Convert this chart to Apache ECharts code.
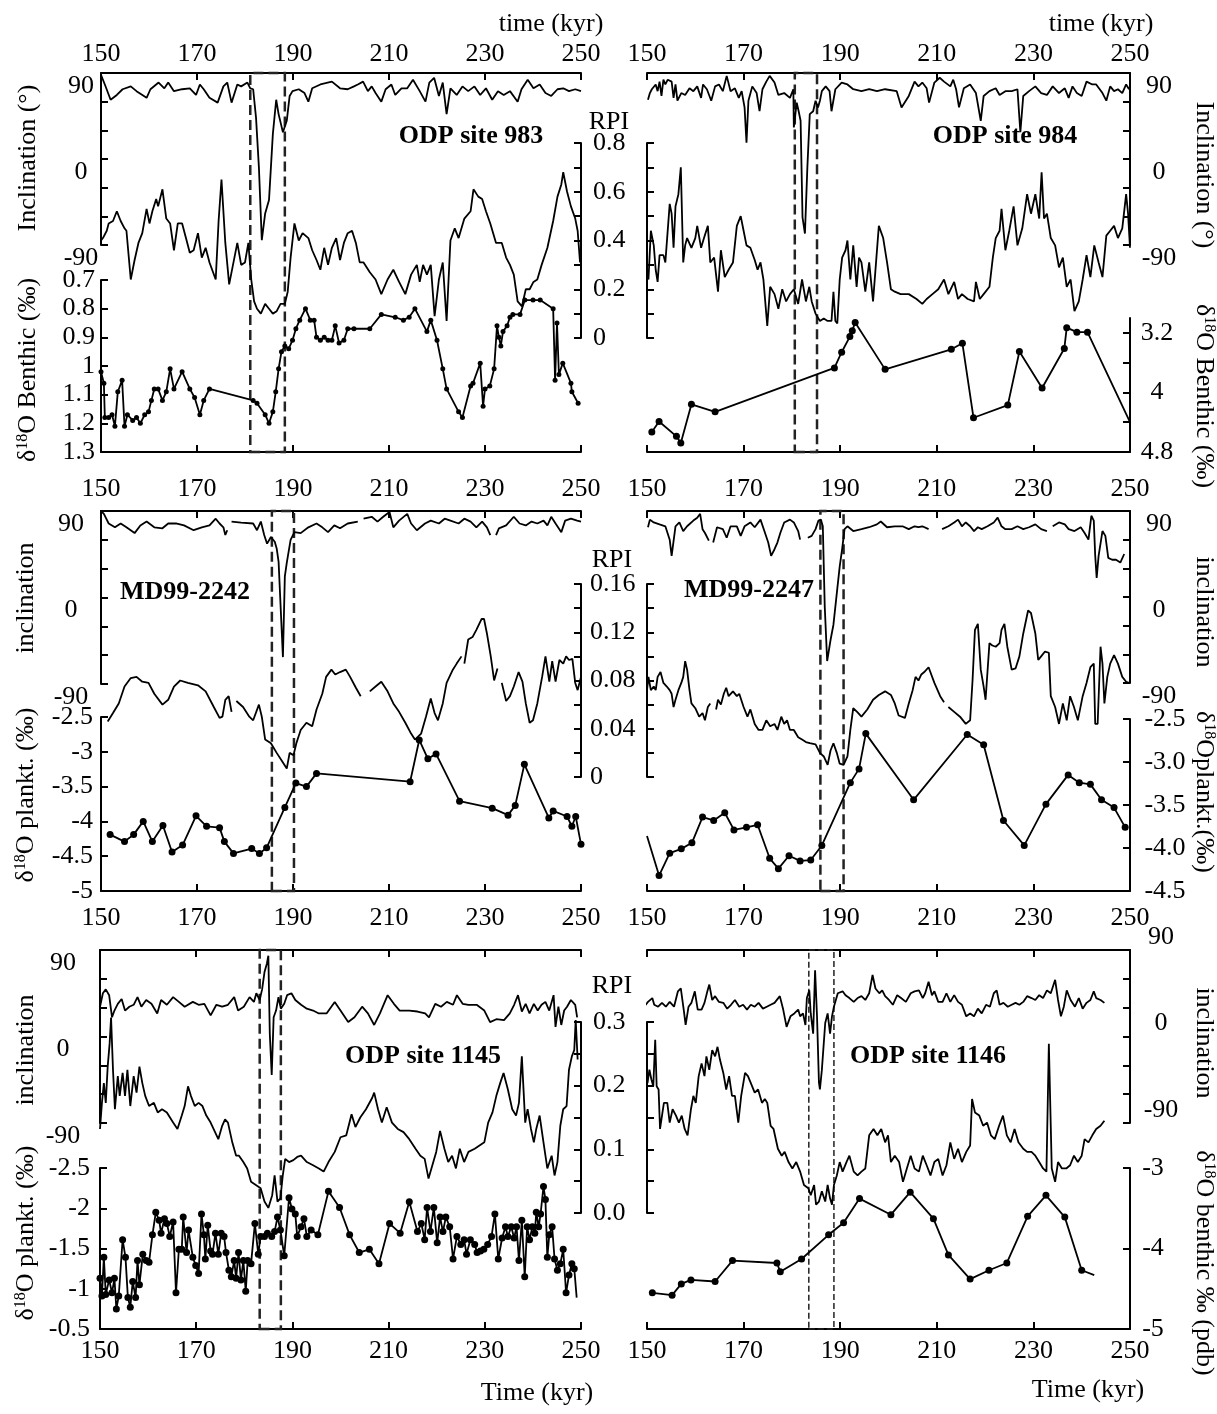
<!DOCTYPE html>
<html>
<head>
<meta charset="utf-8">
<script src="https://cdn.jsdelivr.net/npm/echarts@6/dist/echarts.min.js"></script>
<style>
html, body { margin: 0; padding: 0; background: #fff; }
#chart { width: 1217px; height: 1414px; }
</style>
</head>
<body>
<div id="chart"></div>
<script>
// ---- ODP site 983 : [time kyr, value]
var inc983 = [[150,88],[150.8,78],[152,62],[153.3,67],[154.5,73],[156.2,76],[157.4,71],[159.5,64],[160.3,73],[162,80],[163.2,74],[164,80],[165.2,71],[166.9,73],[168.5,74],[169.8,67],[170.6,78],[171.4,73],[172.6,64],[174.3,59],[175.5,76],[176.3,80],[177.2,59],[178.4,78],[179.2,76],[180.5,80],[181.1,74],[181.7,73],[182.3,43],[182.9,-9],[183.5,-85],[184.2,-57],[185,-43],[185.8,26],[186.5,62],[187,47],[187.9,28],[188.3,26],[188.7,40],[189.3,66],[189.9,71],[191.2,73],[192.4,69],[193.2,60],[194,74],[195.7,78],[198.1,81],[199.8,74],[201.4,73],[202.7,76],[203.5,78],[204.6,81],[205.6,71],[206.4,76],[207.2,69],[208.4,60],[209.3,73],[210.5,78],[211.3,67],[212.6,74],[213.8,74],[215,83],[216.4,71],[217.6,60],[218.4,80],[219.4,85],[220.4,66],[221.2,80],[222,47],[222.8,74],[224.1,67],[225.3,76],[226.5,71],[227.8,76],[229,67],[230.2,74],[231.5,62],[232.7,71],[233.9,67],[235.2,71],[236.8,60],[237.6,73],[238.9,83],[240.1,74],[241.4,78],[242.6,69],[243.8,66],[245.1,73],[246.3,74],[247.5,71],[248.8,73],[250,71]];
var rpi983 = [[150,0.40],[150.4,0.41],[151.2,0.44],[151.6,0.47],[152.5,0.48],[153.3,0.52],[154.1,0.48],[154.9,0.45],[155.3,0.44],[156.2,0.24],[157,0.32],[157.8,0.39],[158.6,0.43],[159.5,0.53],[160.1,0.47],[160.7,0.52],[161.5,0.57],[161.9,0.54],[162.8,0.61],[163.6,0.49],[164.4,0.47],[165.2,0.36],[166,0.47],[166.9,0.47],[167.7,0.41],[168.5,0.35],[169.3,0.36],[170.2,0.43],[171,0.33],[171.8,0.37],[172.6,0.31],[173.9,0.24],[174.5,0.48],[175.1,0.65],[175.9,0.39],[176.7,0.22],[177.6,0.31],[178.4,0.39],[179.2,0.30],[180,0.31],[180.7,0.39],[181.3,0.24],[181.9,0.15],[182.5,0.12],[183.3,0.10],[184.2,0.14],[185,0.12],[185.8,0.10],[186.6,0.11],[187.4,0.14],[188.3,0.14],[188.9,0.19],[189.5,0.33],[190.3,0.47],[191.2,0.40],[192,0.43],[193.2,0.41],[194,0.36],[194.9,0.32],[195.7,0.28],[196.5,0.37],[197.3,0.30],[198.1,0.37],[199,0.41],[199.8,0.32],[200.6,0.39],[201.4,0.43],[202.3,0.44],[203.1,0.39],[203.9,0.31],[204.7,0.31],[206,0.27],[207.2,0.24],[208.4,0.18],[209.7,0.24],[210.9,0.28],[212.1,0.23],[213.4,0.18],[214.6,0.26],[215.8,0.30],[216.4,0.23],[217.1,0.30],[217.9,0.26],[218.7,0.30],[219.5,0.09],[220.4,0.24],[221.2,0.31],[222,0.07],[222.8,0.40],[223.7,0.45],[224.5,0.41],[225.7,0.49],[227,0.52],[227.6,0.61],[228.6,0.58],[229.4,0.57],[230.2,0.52],[231.1,0.47],[232.3,0.39],[233.5,0.39],[234.4,0.33],[235.2,0.30],[236,0.26],[236.8,0.15],[237.7,0.13],[238.5,0.20],[239.3,0.20],[240.1,0.23],[240.9,0.24],[241.8,0.30],[243,0.37],[244.2,0.48],[245.1,0.58],[245.9,0.63],[246.3,0.68],[247.1,0.60],[247.9,0.54],[248.8,0.49],[249.3,0.44],[249.8,0.31]];
var d18o983 = [[150,1.02],[150.6,1.06],[150.8,1.18],[151.6,1.18],[152.3,1.17],[152.9,1.21],[153.5,1.09],[154.4,1.05],[154.9,1.21],[155.5,1.17],[156.6,1.19],[157.4,1.18],[158.2,1.20],[159.1,1.17],[159.9,1.16],[160.5,1.12],[161.1,1.08],[161.9,1.08],[162.8,1.12],[163.6,1.09],[164.4,1.01],[165.2,1.08],[166.9,1.02],[168.5,1.08],[169.5,1.11],[170.6,1.17],[171.4,1.12],[172.6,1.08],[181.7,1.12],[182.5,1.13],[184.2,1.17],[185,1.20],[185.8,1.16],[186.4,1.09],[187,1.01],[187.6,0.95],[188.3,0.93],[189.1,0.94],[189.9,0.91],[190.6,0.87],[191.4,0.84],[192.6,0.80],[193.6,0.84],[194.4,0.84],[194.9,0.90],[195.7,0.91],[196.5,0.90],[197.3,0.91],[198.1,0.91],[198.8,0.86],[199.6,0.92],[200.6,0.91],[201.4,0.87],[202.7,0.87],[206,0.87],[208.4,0.82],[211.3,0.83],[213,0.84],[214.2,0.83],[215.4,0.80],[217.9,0.88],[218.7,0.84],[220,0.91],[221.2,1.01],[222,1.08],[224.5,1.16],[225.3,1.18],[227,1.07],[227.5,1.06],[229,0.99],[229.6,1.14],[230,1.08],[231,1.07],[231.9,1.01],[232.5,0.86],[232.9,0.90],[233.3,0.93],[233.75,0.88],[234.6,0.86],[235.2,0.83],[235.8,0.82],[237.3,0.82],[238.3,0.77],[240,0.77],[241.5,0.77],[244.2,0.80],[244.6,1.05],[245,0.85],[245.4,1.03],[246.2,0.99],[247.9,1.06],[248.1,1.09],[249.4,1.13]];

// ---- ODP site 984
var inc984 = [[150.2,62],[150.6,69],[151,73],[151.8,78],[152.2,71],[152.6,81],[153,66],[153.4,83],[153.8,78],[154.3,83],[155.1,81],[155.5,64],[155.9,78],[156.3,61],[157.1,69],[157.9,67],[158.8,74],[159.6,71],[160.4,76],[161.2,64],[161.6,78],[162.4,73],[163.3,61],[164.1,76],[164.9,78],[165.7,71],[166.5,87],[167.3,71],[168.2,74],[169,64],[169.6,71],[170.2,54],[170.6,17],[171,61],[171.8,76],[172.7,69],[173.3,50],[173.9,73],[174.7,81],[175.4,87],[176.4,80],[177.2,67],[178.4,69],[179.6,64],[180.3,73],[180.4,33],[181,59],[181.4,50],[181.8,40],[182.2,-61],[182.7,-78],[183.2,-9],[183.7,47],[184.4,50],[184.9,61],[185.4,54],[185.8,61],[186.2,71],[187,76],[187.8,71],[188.2,50],[189,73],[190.3,80],[191.5,78],[192.7,73],[194.4,71],[196,73],[197.6,71],[199.3,73],[201.7,71],[202.7,54],[204.2,66],[205.4,81],[206.2,76],[207,80],[207.9,74],[208.4,59],[209.5,80],[210.6,85],[211.5,81],[212.8,76],[213.4,83],[214,73],[214.6,54],[215.6,74],[216.9,78],[218.1,69],[219.1,40],[219.7,66],[220.9,71],[222.2,74],[223,67],[224.2,71],[225.5,71],[226.7,73],[227.3,28],[227.9,66],[229.1,71],[230.4,76],[231.6,69],[232.8,67],[234,76],[235.3,69],[236.5,74],[237.3,64],[238.1,76],[239,69],[240,66],[241,81],[242.2,78],[243,78],[244.3,69],[245.1,61],[245.9,76],[246.7,71],[247.5,73],[248.4,69],[249.2,78],[249.8,73]];
var rpi984 = [[150,0.28],[150.3,0.24],[150.8,0.44],[151.4,0.38],[151.8,0.28],[152.2,0.23],[152.6,0.34],[153.4,0.34],[153.8,0.31],[154.7,0.55],[155.1,0.51],[155.5,0.37],[155.9,0.54],[156.5,0.59],[157,0.70],[157.5,0.31],[157.9,0.38],[158.3,0.41],[159.2,0.37],[160,0.41],[160.4,0.46],[161.2,0.37],[161.8,0.41],[162.6,0.46],[163.1,0.31],[163.9,0.33],[164.7,0.19],[165.3,0.36],[166.1,0.25],[166.9,0.28],[167.8,0.31],[168.6,0.46],[169.4,0.50],[170,0.44],[170.6,0.38],[171.4,0.37],[172.3,0.32],[172.9,0.28],[173.5,0.31],[174.1,0.24],[174.9,0.05],[175.5,0.21],[176.4,0.18],[177.2,0.12],[178,0.20],[178.8,0.15],[179.6,0.18],[180.4,0.20],[181.3,0.14],[182.1,0.24],[182.9,0.15],[183.6,0.21],[184.1,0.15],[184.9,0.10],[185.8,0.07],[186.6,0.08],[187.4,0.07],[188.2,0.07],[188.6,0.19],[189,0.07],[189.4,0.06],[189.9,0.24],[190.4,0.33],[191.1,0.36],[191.5,0.40],[192.1,0.24],[192.7,0.38],[193.4,0.21],[193.9,0.33],[194.4,0.31],[195.2,0.19],[196,0.31],[196.8,0.15],[198,0.46],[198.9,0.41],[199.7,0.31],[200.5,0.20],[201.3,0.19],[202.5,0.18],[204.2,0.18],[205.8,0.16],[207,0.14],[207.9,0.16],[209.1,0.18],[210.3,0.20],[211.5,0.24],[212.4,0.18],[213.6,0.23],[214.4,0.16],[215.2,0.18],[216.4,0.16],[217.7,0.15],[218.1,0.23],[218.9,0.16],[219.7,0.18],[220.9,0.21],[221.6,0.33],[222.2,0.41],[223,0.44],[223.4,0.53],[224.2,0.36],[225,0.44],[225.9,0.54],[226.7,0.38],[227.7,0.45],[228.7,0.59],[229.5,0.51],[230.4,0.59],[231.2,0.49],[231.7,0.68],[232.2,0.49],[232.8,0.51],[233.6,0.41],[234.5,0.38],[235.3,0.29],[236.1,0.33],[236.9,0.21],[237.7,0.24],[238.5,0.11],[239.4,0.15],[240.2,0.24],[241,0.34],[241.8,0.25],[242.6,0.38],[243.5,0.31],[244.3,0.25],[245.1,0.42],[245.9,0.44],[246.7,0.46],[247.5,0.41],[248.4,0.45],[249.2,0.59],[249.6,0.51],[250,0.37]];
var d18o984 = [[151,4.53],[152.5,4.39],[156.1,4.59],[157,4.68],[159.2,4.16],[164.1,4.26],[188.8,3.67],[190.3,3.46],[192,3.25],[192.5,3.17],[193.1,3.06],[199.3,3.69],[213,3.42],[215.3,3.34],[217.6,4.34],[224.7,4.17],[227.1,3.45],[231.8,3.94],[236.4,3.41],[236.9,3.13],[239,3.19],[241.2,3.19],[250,4.40]];

// ---- MD99-2242 (null = gap in record)
var incMD42 = [[150,90],[150.6,87],[151.6,77],[152.9,73],[154.1,77],[155.3,73],[157,67],[158.2,75],[159.5,79],[161.1,73],[162.8,72],[164,77],[165.6,77],[167.3,75],[169.3,70],[171,73],[172.6,75],[173.9,82],[174.7,77],[175.5,73],[175.9,65],[176.3,70],[176.7,null],[177.2,79],[179.2,78],[181.7,77],[182.5,70],[183.3,79],[184,65],[184.6,56],[185.4,63],[186.2,58],[186.6,51],[187,37],[187.4,38],[187.9,-62],[188.3,22],[188.7,36],[189.5,60],[190.3,68],[191.6,67],[193.2,73],[194.9,77],[196.1,73],[197.3,68],[198.6,75],[199.8,72],[201.4,77],[203.5,79],[204.1,null],[204.7,82],[206.4,84],[207.6,79],[208.8,84],[210.1,89],[210.9,73],[212.1,80],[213.8,87],[214.6,77],[215.8,70],[217.5,77],[218.7,80],[220.4,77],[221.6,82],[222.8,80],[224.5,77],[225.7,82],[227,79],[228.2,73],[229.4,79],[230.4,73],[231.1,65],[231.7,null],[232.3,65],[232.9,72],[234.4,75],[236,84],[237.2,77],[238.5,75],[239.7,79],[240.9,77],[242.2,80],[243,75],[243.8,84],[244.7,77],[245.9,68],[246.7,80],[247.9,82],[249.2,80],[250,79]];
var rpiMD42 = [[151.4,0.046],[152.5,0.053],[153.7,0.061],[154.9,0.075],[156.2,0.082],[157.4,0.083],[158.6,0.079],[159.9,0.078],[161.1,0.069],[162.8,0.060],[164,0.064],[165.2,0.075],[166.5,0.080],[168.1,0.078],[170.2,0.076],[171.8,0.071],[173.5,0.058],[174.7,0.049],[175.3,0.050],[175.9,0.064],[176.6,0.067],[177.2,0.054],[177.7,null],[178.2,0.063],[179.6,0.058],[180.9,0.050],[181.7,0.047],[182.9,0.060],[183.5,0.050],[184.2,0.031],[185.4,0.028],[186.6,0.020],[187.9,0.012],[188.7,0.007],[189.3,0.020],[190.1,0.018],[190.7,0.028],[191.6,0.039],[192.8,0.045],[194,0.042],[194.9,0.056],[196.1,0.069],[196.9,0.083],[198,0.089],[198.8,0.085],[199.8,0.087],[201,0.089],[201.9,0.083],[203.1,0.074],[204.1,0.067],[205,null],[206,0.071],[207.2,0.075],[208.4,0.079],[209.7,0.071],[210.9,0.061],[212.1,0.054],[213.4,0.045],[214.6,0.036],[215.4,0.031],[216.7,0.036],[217.7,0.050],[218.7,0.065],[219.5,0.053],[220.2,0.047],[221.2,0.061],[222,0.078],[223.3,0.089],[224.1,0.094],[225.1,0.100],[225.4,null],[225.7,0.094],[226.5,0.114],[227.4,0.116],[228.2,0.122],[229.3,0.131],[229.8,0.131],[230.4,0.119],[231.2,0.100],[231.9,0.080],[232.6,0.090],[233,null],[233.5,0.078],[234.4,0.063],[235.2,0.067],[236,0.075],[237,0.087],[237.8,0.079],[238.5,0.061],[239.3,0.045],[240,0.047],[240.9,0.061],[241.9,0.083],[242.6,0.100],[243.4,0.079],[244,0.096],[244.7,0.079],[245.5,0.097],[246.3,0.094],[246.9,0.100],[247.5,0.097],[248.2,0.098],[248.8,0.078],[249.3,0.072],[250,0.083]];
var d18oMD42 = [[151.9,-4.19],[154.9,-4.29],[156.8,-4.19],[158.8,-4.0],[160.7,-4.29],[162.9,-4.06],[164.8,-4.44],[167,-4.34],[169.8,-3.92],[172,-4.07],[174.7,-4.09],[175.7,-4.29],[177.6,-4.46],[181.4,-4.39],[183,-4.46],[184.5,-4.38],[188.3,-3.80],[190.6,-3.45],[192.8,-3.50],[194.9,-3.31],[214.4,-3.43],[216.3,-2.83],[218.1,-3.10],[219.8,-3.03],[224.7,-3.71],[231.5,-3.81],[234.8,-3.91],[236.3,-3.77],[238.2,-3.18],[243.3,-3.95],[244.2,-3.85],[247.1,-3.93],[248.1,-4.07],[248.9,-3.93],[250,-4.33]];

// ---- MD99-2247
var incMD47 = [[150.2,73],[150.6,81],[151.4,78],[152.6,76],[153.8,74],[154.7,60],[155.1,43],[155.9,74],[156.7,78],[157.5,69],[158.3,74],[159.6,80],[160.4,83],[161,87],[161.5,71],[162,67],[162.8,59],[163.2,null],[163.7,57],[164.5,73],[165.7,71],[166.5,62],[167.3,74],[168.6,74],[169.4,64],[170.2,74],[171.4,78],[172.3,73],[173.5,81],[174.3,69],[175.1,57],[175.7,43],[176.4,50],[177,57],[177.6,67],[178.4,78],[179.6,81],[180.4,78],[181.3,69],[181.7,60],[182.5,null],[183.3,62],[184.1,64],[184.9,71],[185.5,80],[186,81],[186.4,74],[186.8,-10],[187.3,-67],[188,-45],[188.6,-29],[189.3,4],[189.9,32],[190.4,50],[190.9,71],[191.5,74],[192.7,69],[194.4,71],[196,73],[197.6,76],[198.4,79],[199.7,73],[201.3,74],[202.9,74],[204.2,71],[205.4,74],[206.2,73],[207,74],[208.3,71],[209.7,null],[211.1,71],[212.4,74],[213.6,78],[214.4,81],[215.2,74],[216,78],[216.9,74],[217.7,69],[218.5,73],[219.3,71],[220.5,74],[221.8,78],[222.6,83],[223.4,74],[224.2,71],[225.5,71],[226.7,74],[227.9,71],[229.1,73],[230.4,76],[231.6,71],[232.8,69],[233.4,null],[234,74],[235.3,78],[236.5,76],[237.3,71],[238.5,69],[239.8,73],[240.6,67],[241.4,60],[242,85],[242.5,80],[242.8,43],[243.1,20],[243.5,43],[244.3,69],[244.9,64],[245.5,41],[246.3,39],[247.1,39],[248,36],[248.8,45]];
var rpiMD47 = [[150,0.072],[150.3,0.083],[150.8,0.072],[151.4,0.075],[151.8,0.072],[152.2,0.083],[152.8,0.087],[153.4,0.078],[154.1,0.075],[154.7,0.072],[155.1,0.069],[155.5,0.058],[155.9,0.064],[156.5,0.072],[157.1,0.078],[157.5,0.083],[157.9,0.096],[158.3,0.089],[158.8,0.072],[159.2,0.061],[160,0.057],[160.8,0.050],[161.5,0.053],[162,0.047],[162.6,0.058],[163.1,0.061],[163.7,null],[164.3,0.056],[164.7,0.064],[165.3,0.060],[165.9,0.069],[166.4,0.074],[166.9,0.067],[167.8,0.071],[168.6,0.067],[169.1,0.069],[170,0.058],[170.8,0.050],[171.4,0.056],[172.3,0.044],[173.1,0.039],[173.9,0.039],[174.7,0.047],[175.5,0.042],[176.4,0.044],[177,0.039],[177.8,0.050],[178.4,0.044],[179,0.047],[179.6,0.039],[180.4,0.039],[181.3,0.033],[182.1,0.031],[182.9,0.029],[183.7,0.028],[184.9,0.027],[185.8,0.020],[186.6,0.017],[187.4,0.010],[188,0.022],[188.6,0.028],[189.3,0.020],[189.9,0.011],[190.7,0.010],[191.5,0.017],[192.1,0.039],[192.7,0.057],[193.5,0.054],[194.4,0.050],[195.6,0.056],[196.8,0.064],[198,0.068],[199.3,0.071],[200.5,0.068],[201.3,0.061],[202.1,0.051],[203.4,0.049],[204.2,0.061],[205,0.072],[205.6,0.083],[206.2,0.080],[206.8,0.085],[207.4,0.087],[208.3,0.091],[209.5,0.078],[210.7,0.067],[211.5,0.062],[212,null],[212.4,0.058],[213.6,0.054],[214.8,0.050],[216,0.044],[216.9,0.047],[217.4,0.080],[217.9,0.122],[218.5,0.127],[219.1,0.089],[219.7,0.075],[220.1,0.064],[220.9,0.111],[221.5,0.109],[222.2,0.108],[223,0.111],[223.4,0.122],[224,0.127],[224.6,0.108],[225.5,0.089],[226.3,0.090],[227.1,0.100],[227.9,0.119],[228.9,0.138],[229.5,0.136],[230.4,0.119],[231,0.097],[231.6,0.100],[232.4,0.104],[233.2,0.103],[233.6,0.067],[234.5,0.058],[235.3,0.044],[236.1,0.061],[236.9,0.047],[237.6,0.067],[238.4,0.058],[239.2,0.047],[240.2,0.067],[241,0.078],[241.8,0.091],[242.5,0.094],[242.8,0.044],[243.3,0.044],[243.9,0.108],[244.3,0.094],[244.7,0.061],[245.3,0.083],[245.9,0.094],[246.7,0.101],[247.5,0.094],[248.4,0.083],[249.2,0.079],[249.8,0.078]];
var d18oMD47 = [[150,-3.86],[152.5,-4.32],[154.7,-4.06],[157.1,-4.01],[159.3,-3.94],[161.5,-3.64],[163.8,-3.68],[166.1,-3.59],[168,-3.79],[170.6,-3.76],[172.9,-3.73],[175.4,-4.12],[177.2,-4.24],[179.4,-4.09],[181.7,-4.15],[183.9,-4.14],[186.2,-3.97],[192.1,-3.24],[193.9,-3.08],[195.3,-2.67],[205.2,-3.44],[216.3,-2.68],[219.7,-2.80],[223.8,-3.68],[228.1,-3.97],[232.6,-3.49],[237.2,-3.15],[239.5,-3.24],[241.8,-3.26],[244.1,-3.44],[246.7,-3.53],[249,-3.76]];

// ---- ODP site 1145
var inc1145 = [[150,31],[150.6,45],[151.2,49],[151.9,43],[152.5,20],[153,27],[153.7,34],[154.5,39],[155.2,27],[156.1,31],[157,33],[157.8,41],[158.6,31],[159.6,38],[160.7,34],[161.9,24],[162.7,38],[163.9,33],[165.2,41],[166.4,36],[167.6,31],[169.3,36],[170.5,33],[171.7,34],[173,22],[174.2,33],[175.4,31],[176.6,33],[177.9,41],[178.7,27],[179.9,31],[181.1,41],[182,36],[182.5,45],[183.2,38],[183.7,49],[184.2,67],[184.7,76],[185,84],[185.3,3],[185.7,-40],[186.1,20],[186.6,27],[187.1,41],[187.6,29],[188.3,34],[188.9,43],[189.8,45],[190.6,38],[191.8,33],[193,29],[194.3,27],[195.5,24],[197.1,24],[198.8,36],[200,27],[201.6,15],[202.9,20],[204.5,31],[205.7,24],[207,12],[208.2,24],[209.8,43],[211.1,34],[212.3,27],[214.3,27],[216,26],[217.6,24],[218.4,20],[219.7,34],[220.9,31],[222.1,36],[223.4,33],[224.2,43],[225.4,34],[226.6,33],[228.3,33],[229.9,27],[231.1,15],[232.4,18],[234,17],[235.2,24],[236.1,33],[236.9,43],[237.7,26],[238.5,34],[239.3,24],[240.2,34],[241,27],[241.8,33],[242.6,36],[243.4,27],[244.3,43],[244.7,10],[245.3,31],[245.9,12],[246.5,27],[247.1,31],[247.9,38],[248.8,33],[249.2,20]];
var rpi1145 = [[150,0.132],[150.4,0.173],[150.8,0.204],[151.2,0.173],[151.6,0.230],[152,0.266],[152.3,0.307],[152.7,0.225],[153.1,0.163],[153.7,0.215],[154.1,0.184],[154.7,0.220],[155.2,0.184],[155.7,0.225],[156.3,0.168],[157,0.215],[157.6,0.189],[158.2,0.230],[158.8,0.204],[159.4,0.184],[160.2,0.168],[161.2,0.173],[162,0.158],[162.9,0.163],[163.9,0.158],[165.2,0.142],[166.1,0.132],[167,0.153],[167.6,0.168],[168.3,0.199],[168.9,0.184],[169.7,0.168],[170.5,0.173],[171.3,0.168],[172.1,0.153],[173,0.142],[173.8,0.129],[174.6,0.116],[175.4,0.137],[176,0.147],[176.6,0.142],[177.5,0.111],[178.3,0.090],[178.9,0.090],[179.8,0.080],[180.6,0.070],[181.4,0.049],[182.4,0.044],[183.4,0.039],[184.2,0.018],[185,0.008],[185.8,0.028],[186.3,0.059],[186.9,0.018],[187.5,0.023],[188,0.059],[188.5,0.085],[189.3,0.080],[190.2,0.083],[191,0.088],[191.8,0.090],[193,0.080],[194.3,0.075],[195.5,0.070],[196.5,0.065],[197.5,0.080],[198.8,0.096],[200,0.119],[201.2,0.122],[202.3,0.155],[203.1,0.135],[204.1,0.150],[205.3,0.163],[206.6,0.181],[207,0.189],[207.8,0.163],[208.6,0.142],[209.6,0.166],[210.7,0.142],[211.9,0.132],[213.1,0.127],[214.3,0.116],[215.6,0.101],[216.6,0.090],[217.5,0.085],[218.3,0.054],[219.1,0.075],[219.9,0.096],[220.7,0.129],[221.6,0.101],[222.4,0.080],[223.2,0.090],[224,0.070],[224.8,0.101],[225.7,0.080],[226.6,0.096],[227.9,0.101],[228.9,0.106],[229.9,0.111],[230.7,0.142],[231.6,0.158],[232.4,0.184],[233.2,0.204],[233.9,0.220],[234.8,0.194],[235.7,0.163],[236.5,0.153],[237.1,0.173],[237.7,0.246],[238.4,0.142],[238.9,0.163],[239.6,0.132],[240.2,0.111],[240.7,0.132],[241.4,0.153],[242.2,0.111],[243,0.070],[243.9,0.090],[244.5,0.059],[245.1,0.080],[245.7,0.137],[246.3,0.163],[247,0.168],[247.5,0.225],[248.1,0.246],[248.6,0.256],[248.9,0.303],[249.3,0.241]];
var d18o1145 = [[150,-1.13],[150.4,-0.91],[150.8,-1.39],[151.2,-0.93],[151.9,-1.11],[152.5,-0.95],[153,-1.13],[153.4,-0.75],[153.9,-0.91],[154.7,-1.61],[155.3,-1.39],[155.8,-0.89],[156.3,-0.77],[156.8,-1.09],[157.4,-0.89],[157.8,-1.35],[158.2,-1.05],[158.9,-1.43],[159.6,-1.35],[160.2,-1.33],[160.9,-1.67],[161.6,-1.95],[162.3,-1.85],[162.7,-1.69],[163.4,-1.87],[163.9,-1.81],[164.5,-1.65],[165.2,-1.83],[165.8,-0.95],[166.4,-1.49],[167,-1.49],[167.3,-1.89],[168,-1.45],[168.4,-1.73],[169.3,-1.39],[169.9,-1.29],[170.5,-1.19],[171.1,-1.93],[171.6,-1.67],[171.9,-1.37],[172.4,-1.79],[173,-1.47],[173.4,-1.43],[174,-1.69],[174.6,-1.43],[175.2,-1.69],[175.8,-1.65],[176.2,-1.45],[176.8,-1.23],[177.3,-1.15],[177.9,-1.35],[178.3,-1.13],[178.8,-1.45],[179.3,-1.11],[179.8,-1.35],[180.3,-0.97],[180.7,-1.35],[181.4,-1.31],[182.2,-1.81],[182.9,-1.43],[183.4,-1.65],[184.2,-1.65],[184.8,-1.69],[185.7,-1.65],[186.3,-1.71],[186.9,-1.89],[187.5,-1.73],[188.3,-1.41],[189.3,-2.13],[189.9,-1.99],[190.6,-1.93],[191,-1.65],[191.8,-1.77],[192.4,-1.87],[193,-1.65],[193.9,-1.73],[195.3,-1.67],[197.5,-2.21],[199.8,-2.01],[201.9,-1.67],[203.9,-1.45],[206,-1.49],[208,-1.31],[210.2,-1.81],[212.4,-1.69],[214.3,-2.08],[216,-1.71],[216.8,-1.81],[217.5,-1.61],[218,-2.01],[218.7,-1.71],[219.4,-2.01],[220.1,-1.57],[220.7,-1.89],[221.3,-1.71],[221.9,-1.89],[222.7,-1.77],[223.4,-1.37],[224.2,-1.65],[225,-1.55],[225.7,-1.61],[226.2,-1.43],[227,-1.61],[227.9,-1.55],[228.4,-1.45],[229.1,-1.47],[229.8,-1.49],[230.6,-1.55],[231.4,-1.65],[232.1,-1.93],[232.8,-1.37],[233.6,-1.63],[234.3,-1.77],[234.8,-1.65],[235.5,-1.77],[236.1,-1.63],[236.6,-1.77],[237.1,-1.35],[237.7,-1.85],[238.3,-1.15],[238.8,-1.77],[239.3,-1.61],[239.9,-1.77],[240.4,-1.69],[240.7,-1.95],[241.2,-1.77],[241.6,-1.93],[242.2,-2.27],[242.6,-2.11],[243,-1.39],[243.4,-1.67],[244,-1.77],[244.5,-1.37],[245.1,-1.23],[245.7,-1.31],[246.3,-1.49],[246.9,-0.95],[247.5,-1.17],[248.1,-1.31],[248.6,-1.25],[249.1,-0.89]];

// ---- ODP site 1146
var inc1146 = [[147.8,33],[148.6,38],[149.4,31],[150.2,36],[151.1,40],[151.5,33],[152.3,31],[153.1,35],[153.9,31],[154.7,36],[155.6,31],[156.4,47],[157,50],[157.6,28],[158,12],[158.6,31],[159.2,35],[159.9,47],[160.5,28],[161.3,28],[161.9,35],[162.5,47],[162.9,54],[163.5,38],[164.1,42],[164.9,36],[165.8,35],[166.6,29],[167.4,33],[168.2,38],[169.1,31],[169.9,33],[170.7,28],[171.5,33],[172.3,31],[173.1,35],[174,29],[174.8,31],[175.6,33],[176.4,35],[177.5,42],[178.2,28],[178.9,10],[179.7,21],[180.5,24],[181.3,28],[181.7,21],[182.3,24],[182.8,12],[183.1,40],[183.6,48],[183.9,24],[184.4,3],[184.8,69],[185.2,21],[185.6,-48],[185.8,-55],[186.2,-35],[186.9,14],[187.4,24],[187.9,3],[188.3,21],[188.7,31],[189.5,45],[190.5,47],[191.1,43],[191.9,40],[192.8,36],[193.6,40],[194.4,42],[195.2,38],[196,45],[196.7,64],[197.3,50],[198.1,45],[198.7,48],[199.3,42],[200.1,38],[200.9,33],[201.8,43],[202.6,40],[203.6,36],[204.6,45],[205.4,47],[206.3,48],[207.1,40],[207.6,45],[208.3,57],[209,43],[209.5,47],[210.3,36],[211.2,36],[212,45],[212.8,36],[213.6,43],[214.4,36],[215.2,33],[216.1,21],[216.9,24],[217.7,21],[218.5,29],[219.3,24],[220.2,33],[221,31],[221.8,45],[222.4,48],[223,33],[223.8,35],[224.7,31],[225.5,33],[226.3,35],[227.1,33],[227.9,36],[228.7,42],[229.6,40],[230.4,38],[231.2,43],[232,40],[232.8,48],[233.6,45],[234.5,59],[235.1,38],[235.7,21],[236.3,31],[236.9,48],[237.7,38],[238.6,31],[239.4,40],[240.2,29],[241,35],[241.8,38],[242.5,47],[243,40],[243.9,38],[244.7,35]];
var rpi1146 = [[147.8,0.163],[148.2,0.184],[148.6,0.194],[149.3,0.173],[149.7,0.215],[150.1,0.204],[150.5,0.225],[150.9,0.210],[151.3,0.199],[151.7,0.272],[152,0.199],[152.4,0.194],[152.7,0.132],[153.5,0.173],[154.2,0.173],[154.7,0.142],[155.3,0.163],[156,0.153],[156.6,0.142],[157.2,0.153],[157.8,0.132],[158.4,0.122],[159.1,0.163],[159.6,0.184],[160.1,0.173],[160.7,0.215],[161.3,0.235],[161.9,0.215],[162.3,0.246],[162.9,0.225],[163.5,0.256],[164.1,0.246],[164.6,0.261],[165.1,0.241],[165.8,0.220],[166.4,0.194],[167,0.215],[167.6,0.184],[168.2,0.184],[168.9,0.142],[169.5,0.184],[170.3,0.220],[170.9,0.215],[171.5,0.204],[172.3,0.189],[173,0.194],[173.8,0.173],[174.4,0.179],[174.9,0.173],[175.6,0.137],[176.2,0.132],[177.1,0.101],[177.9,0.090],[178.5,0.096],[179.3,0.080],[180.1,0.070],[180.9,0.080],[181.7,0.065],[182.5,0.044],[183.4,0.039],[183.9,0.028],[184.6,0.044],[185,0.013],[185.6,0.018],[186.2,0.034],[186.9,0.018],[187.4,0.044],[187.9,0.023],[188.3,0.013],[188.7,0.044],[189.3,0.059],[189.9,0.080],[190.5,0.065],[191.3,0.080],[191.9,0.090],[192.8,0.065],[193.6,0.059],[194.4,0.065],[195.2,0.070],[196,0.122],[196.9,0.132],[197.7,0.122],[198.5,0.132],[199.3,0.111],[199.9,0.122],[200.5,0.080],[201.3,0.090],[202.2,0.080],[203,0.049],[203.8,0.070],[204.6,0.090],[205.4,0.070],[206.3,0.065],[207.1,0.090],[207.9,0.075],[208.7,0.059],[209.5,0.080],[210.3,0.085],[211.2,0.059],[212,0.075],[212.8,0.111],[213.6,0.085],[214.4,0.101],[215.2,0.080],[216.1,0.096],[216.9,0.106],[217.3,0.179],[217.9,0.158],[218.8,0.153],[219.6,0.137],[220.4,0.142],[221.2,0.122],[222,0.116],[222.9,0.137],[223.7,0.153],[224.5,0.122],[225.3,0.111],[226.1,0.132],[226.9,0.111],[227.9,0.101],[228.7,0.096],[229.6,0.096],[230.4,0.090],[231.2,0.080],[232,0.070],[232.7,0.065],[233.2,0.266],[233.8,0.070],[234.5,0.049],[235.1,0.080],[235.9,0.070],[236.8,0.070],[237.6,0.075],[238.4,0.090],[239.2,0.080],[240,0.090],[240.6,0.116],[241.4,0.111],[242.2,0.122],[243,0.132],[243.9,0.137],[244.7,0.145]];
var d18o1146 = [[151.1,-4.55],[155.2,-4.58],[157.1,-4.44],[159.1,-4.39],[164.1,-4.41],[167.7,-4.15],[176.9,-4.18],[177.6,-4.29],[182,-4.13],[187.6,-3.83],[190.7,-3.68],[194,-3.38],[200.5,-3.58],[204.5,-3.30],[209.3,-3.63],[212.4,-4.08],[216.9,-4.38],[220.8,-4.27],[224.5,-4.18],[228.8,-3.60],[232.6,-3.34],[236.5,-3.61],[240,-4.27],[242.6,-4.33]];

// excursion intervals (kyr) marked by dashed boxes
var box983 = [181.1, 188.3], box984 = [180.6, 185.2], boxMD42 = [185.6, 190.2];
var boxMD47 = [185.9, 190.7], box1145 = [183.2, 187.6], box1146 = [183.5, 188.7];

var FONT = 'Liberation Serif';
var grids = [], xAxes = [], yAxes = [], series = [], texts = [];

function axisStyle() { return { show: true, onZero: false, lineStyle: { color: '#000', width: 2 } }; }

function frame(left, top, width, height, topLab, botLab, box, boxW) {
  var g = grids.length;
  grids.push({ left: left, top: top, width: width, height: height });
  [['top', topLab], ['bottom', botLab]].forEach(function (s) {
    xAxes.push({
      type: 'value', gridIndex: g, position: s[0], min: 150, max: 250, interval: 20,
      axisLine: axisStyle(),
      axisTick: { inside: true, length: 7, lineStyle: { color: '#000', width: 2 } },
      axisLabel: { show: s[1] !== null, margin: s[1] || 0, fontSize: 26, fontFamily: FONT, color: '#000' },
      splitLine: { show: false }
    });
  });
  yAxes.push({ type: 'value', gridIndex: g, min: 0, max: 1, show: false });
  series.push({
    type: 'line', xAxisIndex: xAxes.length - 2, yAxisIndex: yAxes.length - 1,
    data: [[150, 0.5]], showSymbol: false, lineStyle: { opacity: 0 }, silent: true,
    markArea: {
      silent: true,
      itemStyle: { color: 'rgba(0,0,0,0)', borderColor: '#222', borderWidth: boxW, borderType: 'dashed' },
      data: [[{ xAxis: box[0] }, { xAxis: box[1] }]]
    }
  });
}

function curve(left, width, c) {
  var g = grids.length;
  grids.push({ left: left, top: c.top, width: width, height: c.height });
  xAxes.push({ type: 'value', gridIndex: g, min: 150, max: 250, show: false });
  yAxes.push({
    type: 'value', gridIndex: g, min: c.min, max: c.max, inverse: !!c.inverse, position: c.pos,
    axisLine: axisStyle(),
    axisTick: { show: true, inside: true, length: 7, customValues: c.ticks, lineStyle: { color: '#000', width: 2 } },
    axisLabel: {
      show: !!c.labels, customValues: c.labels || [], margin: c.margin || 10,
      fontSize: 26, fontFamily: FONT, color: '#000',
      align: c.align, verticalAlign: c.va || 'middle',
      formatter: c.fmt || function (v) { return String(+v.toFixed(3)); }
    },
    splitLine: { show: false }
  });
  var data = c.data.map(function (p, i) {
    return (c.noDot && c.noDot.indexOf(i) >= 0) ? { value: p, symbol: 'none' } : p;
  });
  series.push({
    type: 'line', xAxisIndex: xAxes.length - 1, yAxisIndex: yAxes.length - 1, data: data,
    showSymbol: !!c.dots, showAllSymbol: true, symbol: 'circle', symbolSize: c.dots || 0,
    lineStyle: { color: '#000', width: 1.8 }, itemStyle: { color: '#000' },
    connectNulls: false, clip: false, silent: true
  });
}

function txt(x, y, s, o) {
  o = o || {};
  var size = o.size || 26;
  texts.push({
    type: 'text', x: x, y: y, rotation: o.rot || 0, silent: true,
    style: {
      text: s,
      font: (o.bold ? 'bold ' : '') + size + 'px "Liberation Serif"',
      fill: '#000', align: o.align || 'center', verticalAlign: 'middle',
      rich: {
        n: { fontSize: size, fontFamily: FONT, fill: '#000', color: '#000' },
        s: { fontSize: 16, fontFamily: FONT, fill: '#000', color: '#000', verticalAlign: 'top', lineHeight: 27 }
      }
    }
  });
}

var incTicks = [-90, -60, -30, 0, 30, 60, 90], incLab = [-90, 0, 90];
var f1 = function (v) { return v.toFixed(1); };
var f2 = function (v) { return v === 0 ? '0' : v.toFixed(2); };

// ---------- Row 1 ----------
var L1 = 101, W1 = 480, L2 = 647, W2 = 483;
frame(L1, 73, W1, 379, 6, 24, box983, 2.5);
curve(L1, W1, { top: 73, height: 172, min: -90, max: 90, pos: 'left', ticks: incTicks, labels: incLab, align: 'center', margin: 20, va: 'top', data: inc983 });
curve(L1, W1, { top: 143, height: 195, min: 0, max: 0.8, pos: 'right', ticks: [0,0.1,0.2,0.3,0.4,0.5,0.6,0.7,0.8], labels: [0,0.2,0.4,0.6,0.8], margin: 12, data: rpi983 });
curve(L1, W1, { top: 280, height: 172, min: 0.7, max: 1.3, inverse: true, pos: 'left', ticks: [0.7,0.8,0.9,1,1.1,1.2,1.3], labels: [0.7,0.8,0.9,1,1.1,1.2,1.3], margin: 6, data: d18o983, dots: 5 });

frame(L2, 73, W2, 379, 6, 24, box984, 2.5);
curve(L2, W2, { top: 73, height: 172, min: -90, max: 90, pos: 'right', ticks: incTicks, labels: incLab, align: 'center', margin: 29, va: 'top', data: inc984 });
curve(L2, W2, { top: 143, height: 195, min: 0, max: 0.8, pos: 'left', ticks: [0,0.1,0.2,0.3,0.4,0.5,0.6,0.7,0.8], data: rpi984 });
curve(L2, W2, { top: 318, height: 134, min: 3.0, max: 4.8, inverse: true, pos: 'right', ticks: [3.2,3.6,4.0,4.4,4.8], labels: [3.2,4,4.8], align: 'center', margin: 27, data: d18o984, dots: 7, noDot: [22] });

// ---------- Row 2 ----------
frame(L1, 511, W1, 380, null, 14, boxMD42, 2.5);
curve(L1, W1, { top: 511, height: 173, min: -90, max: 90, pos: 'left', ticks: incTicks, labels: incLab, align: 'center', margin: 30, va: 'top', data: incMD42 });
curve(L1, W1, { top: 584, height: 193, min: 0, max: 0.16, pos: 'right', ticks: [0,0.02,0.04,0.06,0.08,0.1,0.12,0.14,0.16], labels: [0,0.04,0.08,0.12,0.16], margin: 9, fmt: f2, data: rpiMD42 });
curve(L1, W1, { top: 717, height: 174, min: -5, max: -2.5, pos: 'left', ticks: [-5,-4.5,-4,-3.5,-3,-2.5], labels: [-5,-4.5,-4,-3.5,-3,-2.5], margin: 8, data: d18oMD42, dots: 7 });

frame(L2, 511, W2, 380, null, 14, boxMD47, 2.5);
curve(L2, W2, { top: 511, height: 172, min: -90, max: 90, pos: 'right', ticks: incTicks, labels: incLab, align: 'center', margin: 29, va: 'top', data: incMD47 });
curve(L2, W2, { top: 584, height: 193, min: 0, max: 0.16, pos: 'left', ticks: [0,0.02,0.04,0.06,0.08,0.1,0.12,0.14,0.16], data: rpiMD47 });
curve(L2, W2, { top: 719, height: 172, min: -4.5, max: -2.5, pos: 'right', ticks: [-4.5,-4,-3.5,-3,-2.5], labels: [-4.5,-4,-3.5,-3,-2.5], align: 'center', margin: 35, fmt: f1, data: d18oMD47, dots: 7, noDot: [0] });

// ---------- Row 3 ----------
frame(100, 950, 481, 379, null, 9, box1145, 2.5);
curve(100, 481, { top: 950, height: 173, min: -90, max: 90, pos: 'left', ticks: incTicks, labels: incLab, align: 'center', margin: 37, va: 'top', data: inc1145 });
curve(100, 481, { top: 1022, height: 191, min: 0, max: 0.3, pos: 'right', ticks: [0,0.05,0.1,0.15,0.2,0.25,0.3], labels: [0,0.1,0.2,0.3], margin: 12, fmt: f1, data: rpi1145 });
curve(100, 481, { top: 1168, height: 161, min: -2.5, max: -0.5, inverse: true, pos: 'left', ticks: [-2.5,-2,-1.5,-1,-0.5], labels: [-2.5,-2,-1.5,-1,-0.5], margin: 10, data: d18o1145, dots: 7, noDot: [d18o1145.length - 1] });

frame(L2, 950, W2, 379, null, 9, box1146, 1.5);
curve(L2, W2, { top: 950, height: 173, min: -90, max: 90, pos: 'right', ticks: incTicks, labels: incLab, align: 'center', margin: 31, va: 'bottom', data: inc1146 });
curve(L2, W2, { top: 1022, height: 191, min: 0, max: 0.3, pos: 'left', ticks: [0,0.05,0.1,0.15,0.2,0.25,0.3], data: rpi1146 });
curve(L2, W2, { top: 1168, height: 161, min: -5, max: -3, pos: 'right', ticks: [-5,-4,-3], labels: [-5,-4,-3], align: 'center', margin: 23, data: d18o1146, dots: 7, noDot: [d18o1146.length - 1] });

// ---------- texts ----------
var UP = Math.PI / 2, DOWN = -Math.PI / 2;
txt(551, 24, 'time (kyr)'); txt(1101, 24, 'time (kyr)');
txt(537, 1393, 'Time (kyr)'); txt(1088, 1390, 'Time (kyr)');
txt(609, 122, 'RPI'); txt(612, 560, 'RPI'); txt(612, 986, 'RPI');
txt(471, 136, 'ODP site 983', { bold: true }); txt(1005, 136, 'ODP site 984', { bold: true });
txt(185, 592, 'MD99-2242', { bold: true }); txt(749, 590, 'MD99-2247', { bold: true });
txt(423, 1056, 'ODP site 1145', { bold: true }); txt(928, 1056, 'ODP site 1146', { bold: true });
txt(28, 158, 'Inclination (°)', { rot: UP });
txt(28, 370, '{n|δ}{s|18}{n|O Benthic (‰)}', { rot: UP });
txt(1204, 175, 'Inclination (°)', { rot: DOWN });
txt(1204, 396, '{n|δ}{s|18}{n|O Benthic (‰)}', { rot: DOWN });
txt(26, 598, 'inclination', { rot: UP });
txt(26, 795, '{n|δ}{s|18}{n|O plankt. (‰)}', { rot: UP });
txt(1204, 612, 'inclination', { rot: DOWN });
txt(1204, 792, '{n|δ}{s|18}{n|Oplankt.(‰)}', { rot: DOWN });
txt(26, 1050, 'inclination', { rot: UP });
txt(26, 1233, '{n|δ}{s|18}{n|O plankt. (‰)}', { rot: UP });
txt(1204, 1043, 'inclination', { rot: DOWN });
txt(1204, 1263, '{n|δ}{s|18}{n|O benthic ‰ (pdb)}', { rot: DOWN });

var chart = echarts.init(document.getElementById('chart'));
chart.setOption({
  animation: false,
  backgroundColor: '#fff',
  textStyle: { fontFamily: FONT },
  grid: grids, xAxis: xAxes, yAxis: yAxes, series: series,
  graphic: { elements: texts }
});
</script>
</body>
</html>
